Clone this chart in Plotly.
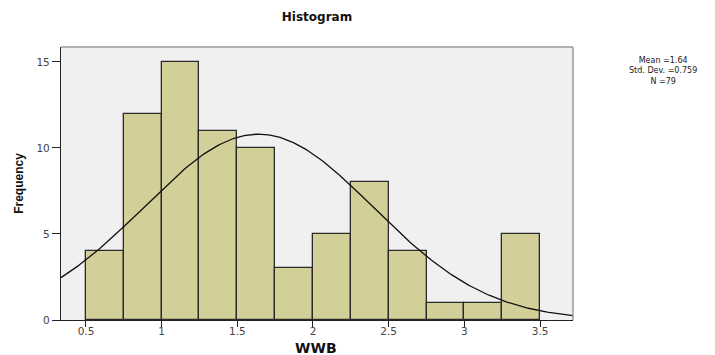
import numpy as np
import plotly.graph_objects as go

bin_starts = [0.5, 0.75, 1.0, 1.25, 1.5, 1.75, 2.0, 2.25, 2.5, 2.75, 3.0, 3.25]
counts = [4, 12, 15, 11, 10, 3, 5, 8, 4, 1, 1, 5]
bin_width = 0.25
mean_val = 1.64
sd_val = 0.759
n_val = 79
curve_peak = 10.8  # peak height of fitted normal curve
x_ticks = [0.5, 1, 1.5, 2, 2.5, 3, 3.5]
x_tick_text = ["0.5", "1", "1.5", "2", "2.5", "3", "3.5"]
y_ticks = [0, 5, 10, 15]
stats_lines = ["Mean =1.64", "Std. Dev. =0.759", "N =79"]

centers = [s + bin_width / 2 for s in bin_starts]
xr = [0.335, 3.718]
xs = np.linspace(xr[0], xr[1], 300)
ys = curve_peak * np.exp(-0.5 * ((xs - mean_val) / sd_val) ** 2)

fig = go.Figure()
fig.add_trace(go.Bar(x=centers, y=counts, width=bin_width,
                     marker=dict(color="#d3cf98", line=dict(color="#2a2a2a", width=1.3)),
                     hoverinfo="x+y"))
fig.add_trace(go.Scatter(x=xs, y=ys, mode="lines", line=dict(color="#111111", width=1.3)))

tickfont = dict(family="DejaVu Sans, sans-serif", size=10.5, color="#444444")
annotations = [
    dict(text="<br>".join(stats_lines), xref="paper", yref="paper",
         x=1 + (663 - 573) / 512, y=1 - (71 - 47) / 273,
         xanchor="center", yanchor="middle", showarrow=False, align="center",
         font=dict(family="DejaVu Sans, sans-serif", size=8, color="#222222")),
    dict(text="<b>WWB</b>", xref="paper", yref="paper", x=(316 - 61) / 512, y=-(348 - 320) / 273,
         xanchor="center", yanchor="middle", showarrow=False,
         font=dict(family="DejaVu Sans, sans-serif", size=14, color="#111111")),
]

fig.update_layout(
    width=715, height=355,
    margin=dict(l=61, r=142, t=47, b=35, autoexpand=False),
    paper_bgcolor="white", plot_bgcolor="#f0f0f0",
    showlegend=False, bargap=0,
    font=dict(family="Liberation Sans, Arial, sans-serif", color="#333333"),
    title=dict(text="<b>Histogram</b>", x=(61 + 573) / 2 / 715, xanchor="center",
               y=1 - 17 / 355, yanchor="middle",
               font=dict(family="DejaVu Sans, sans-serif", size=12, color="#111111")),
    xaxis=dict(range=xr, tickvals=x_ticks, ticktext=x_tick_text, ticks="outside",
               ticklen=6, tickcolor="#222222", tickfont=tickfont, ticklabelstandoff=-5,
               showline=True, linecolor="#222222", linewidth=1.3, showgrid=False,
               zeroline=False, mirror=False, automargin=False),
    yaxis=dict(range=[0, 15.87], tickvals=y_ticks, ticks="outside", ticklen=8,
               tickcolor="#222222", tickfont=tickfont, automargin=False,
               showline=True, linecolor="#222222", linewidth=1.3, showgrid=False,
               zeroline=False,
               title=dict(text="<b>Frequency</b>", font=dict(size=12, color="#111111"), standoff=10)),
    shapes=[
        dict(type="line", xref="paper", yref="paper", x0=0, x1=1, y0=1, y1=1,
             line=dict(color="#9a9a9a", width=1.5)),
        dict(type="line", xref="paper", yref="paper", x0=1, x1=1, y0=0, y1=1,
             line=dict(color="#9a9a9a", width=1.5)),
    ],
    annotations=annotations,
)

fig.write_html("out.html")
